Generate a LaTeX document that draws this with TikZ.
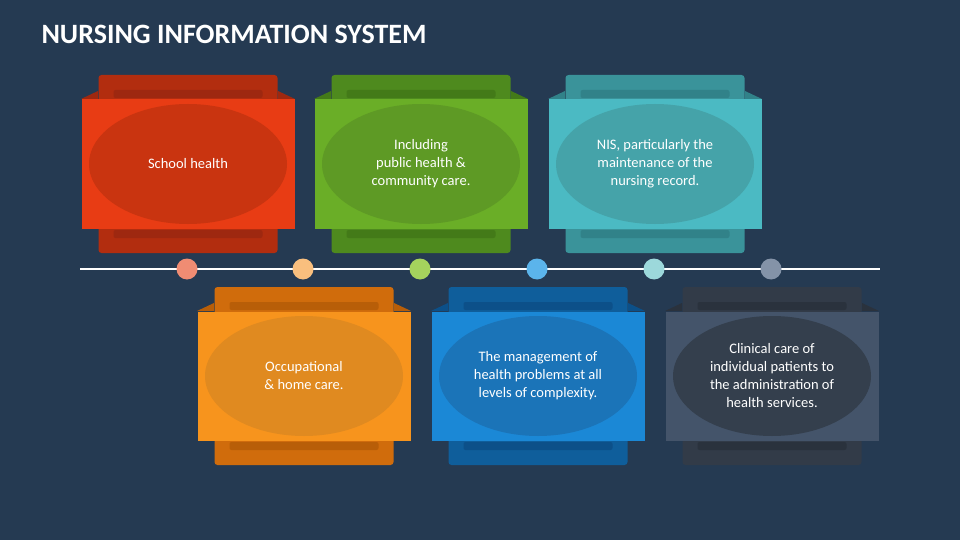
\documentclass[tikz,border=0pt]{standalone}
\usepackage{fontspec}
\setmainfont{Carlito}
\usetikzlibrary{positioning, shapes.geometric}
\definecolor{bg}{HTML}{253A52}
\definecolor{redF}{HTML}{E83C14}\definecolor{redB}{HTML}{B22D0F}\definecolor{redE}{HTML}{C93410}\definecolor{redS}{HTML}{9E2810}\definecolor{redD}{HTML}{F08C73}
\definecolor{orgF}{HTML}{F7941D}\definecolor{orgB}{HTML}{D06C0C}\definecolor{orgE}{HTML}{E08A20}\definecolor{orgS}{HTML}{B85E08}\definecolor{orgD}{HTML}{F9BF7E}
\definecolor{grnF}{HTML}{6AAE27}\definecolor{grnB}{HTML}{4E8A1E}\definecolor{grnE}{HTML}{5E9A25}\definecolor{grnS}{HTML}{437A18}\definecolor{grnD}{HTML}{A5D35D}
\definecolor{bluF}{HTML}{1B88D6}\definecolor{bluB}{HTML}{0F5E9B}\definecolor{bluE}{HTML}{1B74B8}\definecolor{bluS}{HTML}{0C5089}\definecolor{bluD}{HTML}{5BB4EB}
\definecolor{tealF}{HTML}{4BBAC3}\definecolor{tealB}{HTML}{3A939A}\definecolor{tealE}{HTML}{45A3A9}\definecolor{tealS}{HTML}{318289}\definecolor{tealD}{HTML}{9CD8DB}
\definecolor{gryF}{HTML}{44546A}\definecolor{gryB}{HTML}{323B48}\definecolor{gryE}{HTML}{343F4D}\definecolor{gryS}{HTML}{2A323D}\definecolor{gryD}{HTML}{8493A8}
\tikzstyle{back} = [rectangle, rounded corners=3pt, minimum width=179pt, minimum height=178pt, inner sep=0pt]
\tikzstyle{strip} = [rectangle, rounded corners=2pt, minimum width=149pt, minimum height=8pt, inner sep=0pt]
\tikzstyle{front} = [rectangle, minimum width=213pt, minimum height=129pt, inner sep=0pt]
\tikzstyle{oval} = [ellipse, minimum width=198pt, minimum height=120pt, inner sep=0pt, text=white, align=center, font=\fontsize{14.5}{18}\selectfont]
\tikzstyle{dot} = [circle, minimum size=21pt, inner sep=0pt]
\begin{document}
\begin{tikzpicture}[x=1pt, y=-1pt]
    \fill [bg] (0,0) rectangle (960,540);
    \useasboundingbox (0,0) rectangle (960,540);

    % Title.
    \node (title) [anchor=west, text=white, font=\fontsize{28}{32}\selectfont\bfseries] at (38,34) {NURSING INFORMATION SYSTEM};

    % Timeline.
    \coordinate (line start) at (80,269);
    \coordinate (line end) at (880,269);
    \draw [white, line width=1.5pt] (line start) -- (line end);

    % Cards.
    \foreach \n/\x/\y/\c/\t in {
        1/188/164/red/{School health},
        2/304/376/org/{Occupational\\\& home care.},
        3/421/164/grn/{Including\\public health \&\\community care.},
        4/538/376/blu/{The management of\\health problems at all\\levels of complexity.},
        5/655/164/teal/{NIS, particularly the\\maintenance of the\\nursing record.},
        6/772/376/gry/{Clinical care of\\individual patients to\\the administration of\\health services.}} {%
        \node (back \n) [back, fill=\c B] at (\x,\y) {};
        \node (strip top \n) [strip, fill=\c S, below=15pt of back \n.north] {};
        \node (strip bottom \n) [strip, fill=\c S, above=15pt of back \n.south] {};
        \fill [\c S] (\x-107,\y-65) -- (\x-90,\y-73) -- (\x-90,\y-65) -- cycle;
        \fill [\c S] (\x+107,\y-65) -- (\x+90,\y-73) -- (\x+90,\y-65) -- cycle;
        \node (front \n) [front, fill=\c F] at (\x,\y) {};
        \node (oval \n) [oval, fill=\c E] at (\x,\y) {\t};
        \node (dot \n) [dot, fill=\c D] at (\x-1,269) {};
    }
\end{tikzpicture}
\end{document}
